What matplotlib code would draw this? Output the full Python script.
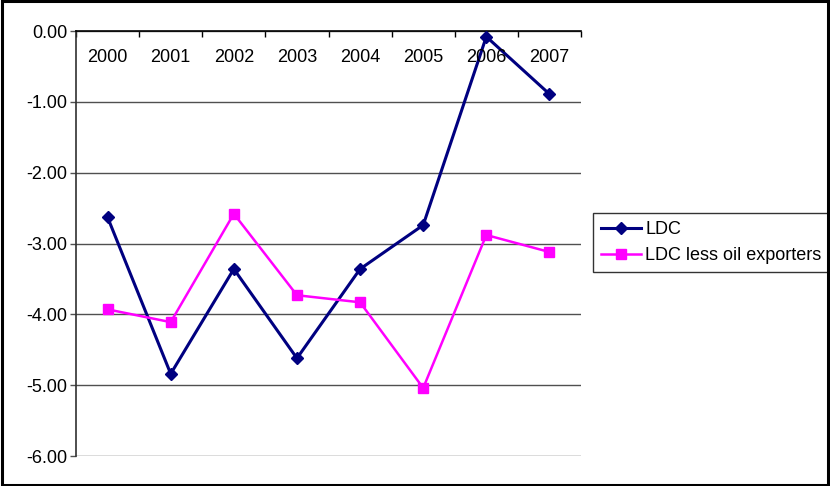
import matplotlib

matplotlib.use("Agg")
import matplotlib.pyplot as plt  # noqa: E402
from matplotlib.patches import Rectangle  # noqa: E402

plt.rcParams["font.family"] = ["Liberation Sans", "DejaVu Sans"]

years = ["2000", "2001", "2002", "2003", "2004", "2005", "2006", "2007"]
ldc = [-2.63, -4.84, -3.36, -4.62, -3.36, -2.74, -0.08, -0.89]
ldc_less_oil = [-3.93, -4.11, -2.58, -3.73, -3.83, -5.04, -2.88, -3.12]
y_ticks = [0, -1, -2, -3, -4, -5, -6]

fig = plt.figure(figsize=(8.3, 4.86), dpi=100)
ax = fig.add_axes([0.0916, 0.0617, 0.6084, 0.8745])

x = range(len(years))
ax.plot(x, ldc, color="#000080", lw=2.2, marker="D", ms=6.5,
        label="LDC", zorder=3)
ax.plot(x, ldc_less_oil, color="#FF00FF", lw=1.8, marker="s", ms=6.5,
        label="LDC less oil exporters", zorder=3)

ax.set_xlim(-0.5, len(years) - 0.5)
ax.set_ylim(-6, 0)

# horizontal gridlines, the zero line doubles as the category axis
ax.set_yticks(y_ticks)
ax.set_yticklabels([f"{v:.2f}" for v in y_ticks], fontsize=13)
ax.yaxis.grid(True, color="#505050", lw=1.0)
ax.tick_params(axis="y", length=4, width=1, color="#505050", pad=2)

ax.xaxis.tick_top()
ax.set_xticks([i - 0.5 for i in range(len(years) + 1)])
ax.set_xticklabels([])
ax.tick_params(axis="x", direction="in", length=4, width=1, color="black")
for i, yr in enumerate(years):
    ax.text(i, -0.37, yr, ha="center", va="center", fontsize=13)

for side in ("right", "bottom"):
    ax.spines[side].set_visible(False)
ax.spines["top"].set_linewidth(1.2)
ax.spines["left"].set_linewidth(1.2)
ax.spines["left"].set_color("#303030")

leg = ax.legend(loc="upper left", bbox_to_anchor=(1.024, 0.572),
                fontsize=13, frameon=True, fancybox=False, handlelength=2.2,
                borderpad=0.45, labelspacing=0.5, handletextpad=0.25,
                borderaxespad=0)
leg.get_frame().set_edgecolor("black")
leg.get_frame().set_linewidth(1.0)

fig.patches.append(Rectangle((0.002, 0.003), 0.996, 0.994,
                             transform=fig.transFigure, fill=False,
                             edgecolor="black", lw=2.2))

fig.savefig("out.png", dpi=100)
